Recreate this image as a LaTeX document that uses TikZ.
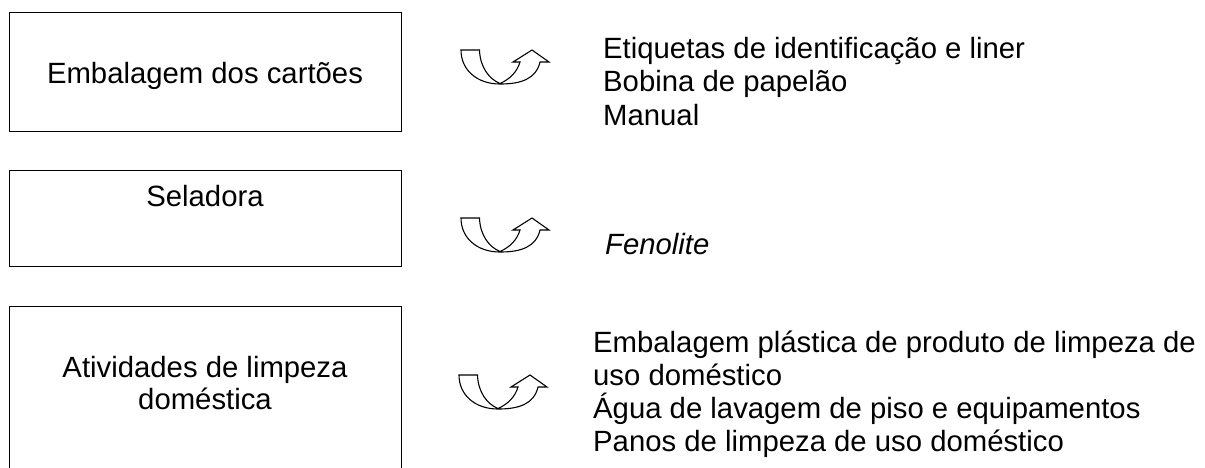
\documentclass[tikz,border=0pt]{standalone}
\usepackage{fontspec}
\setmainfont{Liberation Sans}
\begin{document}
\begin{tikzpicture}[x=1pt,y=-1pt,
  box/.style={draw,line width=1.1pt,inner sep=0pt},
  txt/.style={inner sep=0pt,font=\fontsize{29.3}{33}\selectfont},
  uturn/.pic={
    \draw[line width=1.1pt,line join=miter,fill=white]
      (0,0) -- (18.5,0)
      .. controls (19,17) and (28,29) .. (39,33.5)
      .. controls (49,29) and (56,22) .. (59,12)
      -- (52,12) -- (71,0) -- (88,12) -- (79,12)
      .. controls (75,29) and (60,34) .. (39,34)
      .. controls (16,34) and (0,20) .. (0,0) -- cycle;
  }]
\useasboundingbox (0,0) rectangle (1205,467);
\clip (0,0) rectangle (1205,467);
% boxes
\node[box,anchor=north west,minimum width=392pt,minimum height=119pt] (b1) at (9,12) {};
\node[box,anchor=north west,minimum width=392pt,minimum height=96pt] (b2) at (9,170) {};
\node[box,anchor=north west,minimum width=392pt,minimum height=200pt] (b3) at (9,306) {};
% box texts
\node[txt,anchor=base] (t1) at (205,83.5) {Embalagem dos cartões};
\node[txt,anchor=base] (t2) at (205,206) {Seladora};
\node[txt,anchor=base] (t3a) at (205,377) {Atividades de limpeza};
\node[txt,anchor=base] (t3b) at (205,409.5) {doméstica};
% arrows
\pic at (461,50) {uturn};
\pic at (461,218) {uturn};
\pic at (459,375) {uturn};
% right texts
\node[txt,anchor=base west] (r1a) at (603,58) {Etiquetas de identificação e liner};
\node[txt,anchor=base west] (r1b) at (603,91.5) {Bobina de papelão};
\node[txt,anchor=base west] (r1c) at (603,125) {Manual};
\node[txt,anchor=base west,font=\fontsize{29.3}{33}\selectfont\itshape] (r2) at (605,254) {Fenolite};
\node[txt,anchor=base west] (r3a) at (593,352) {Embalagem plástica de produto de limpeza de};
\node[txt,anchor=base west] (r3b) at (593,385) {uso doméstico};
\node[txt,anchor=base west] (r3c) at (593,418) {Água de lavagem de piso e equipamentos};
\node[txt,anchor=base west] (r3d) at (593,451) {Panos de limpeza de uso doméstico};
\end{tikzpicture}
\end{document}
